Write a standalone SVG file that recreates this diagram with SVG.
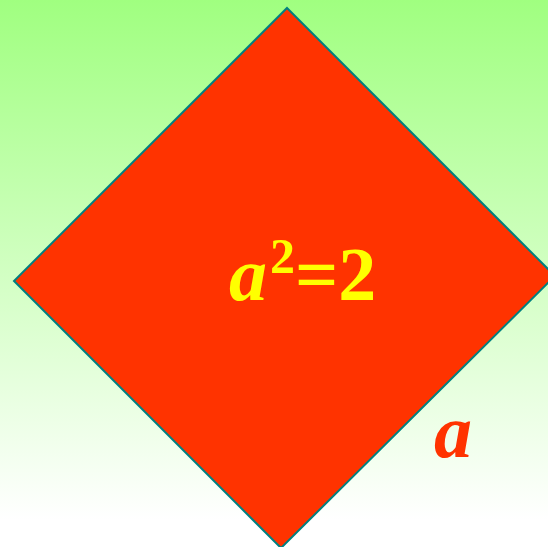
<svg xmlns="http://www.w3.org/2000/svg" width="548" height="547" viewBox="0 0 548 547">
<defs>
<linearGradient id="bg" x1="0" y1="0" x2="0" y2="1">
<stop offset="0" stop-color="#A0FF80"/>
<stop offset="0.95" stop-color="#FFFFFF"/>
</linearGradient>
<style>
.t{font-family:"Liberation Serif","Times New Roman",serif;font-weight:bold;}
</style>
</defs>
<rect x="0" y="0" width="548" height="547" fill="url(#bg)"/>
<g id="square">
<polygon points="287,8 555,276 281,548 14,281" fill="#FF3300" stroke="#008080" stroke-width="2"/>
</g>
<g id="area-label">
<text class="t" font-size="76" fill="#FFFF00"><tspan x="229" y="300" font-style="italic">a</tspan><tspan x="270" y="273" font-size="50">2</tspan><tspan x="295" y="300">=2</tspan></text>
</g>
<g id="side-label">
<text class="t" x="434" y="457" font-size="76" font-style="italic" fill="#FF3300">a</text>
</g>
</svg>
